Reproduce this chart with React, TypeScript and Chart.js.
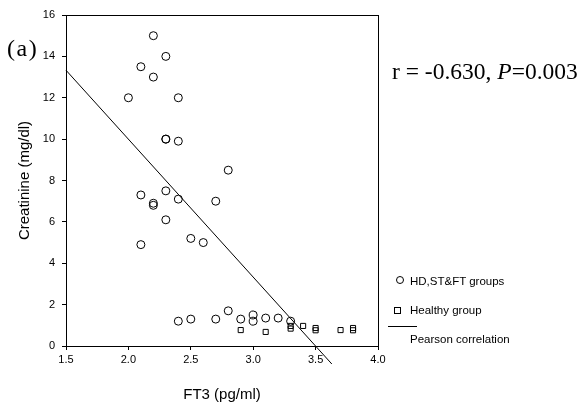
import React, { useEffect, useRef } from "react";
import { Chart, registerables } from "chart.js";

Chart.register(...registerables);

// HD, ST & FT groups (circles)
const groupFT3 = [2.2, 2.3, 2.1, 2.2, 2.0, 2.4, 2.3, 2.3, 2.4, 2.8, 2.1, 2.3, 2.4, 2.2, 2.2, 2.3, 2.1, 2.5, 2.6, 2.7, 2.4, 2.5, 2.7, 2.8, 2.9, 3.0, 3.0, 3.1, 3.2, 3.3];
const groupCreat = [15, 14, 13.5, 13, 12, 12, 10, 10, 9.9, 8.5, 7.3, 7.5, 7.1, 6.9, 6.8, 6.1, 4.9, 5.2, 5.0, 7.0, 1.2, 1.3, 1.3, 1.7, 1.3, 1.5, 1.2, 1.35, 1.35, 1.2];

// Healthy group (squares)
const healthyFT3 = [2.9, 3.1, 3.3, 3.3, 3.4, 3.5, 3.5, 3.7, 3.8, 3.8];
const healthyCreat = [0.77, 0.68, 0.97, 0.84, 0.97, 0.87, 0.76, 0.77, 0.87, 0.76];

// Pearson correlation line end points
const lineFT3 = [1.5, 3.63];
const lineCreat = [13.33, -0.87];

const xTicks = [1.5, 2.0, 2.5, 3.0, 3.5, 4.0];
const yTicks = [0, 2, 4, 6, 8, 10, 12, 14, 16];

const xTitle = "FT3 (pg/ml)";
const yTitle = "Creatinine (mg/dl)";
const legendLabels = ["HD,ST&FT groups", "Healthy group", "Pearson correlation"];

const SANS = "'Liberation Sans', Arial, sans-serif";
const SERIF = "'Liberation Serif', 'Times New Roman', serif";

const boxPlugin = {
  id: "boxPlugin",
  afterDatasetsDraw(chart: any) {
    const { ctx, chartArea } = chart;
    ctx.save();
    ctx.strokeStyle = "#000";
    ctx.lineWidth = 1;
    ctx.strokeRect(
      Math.round(chartArea.left) + 0.5,
      Math.round(chartArea.top) + 0.5,
      Math.round(chartArea.right - chartArea.left),
      Math.round(chartArea.bottom - chartArea.top)
    );
    ctx.restore();
  },
};

export default function App() {
  const ref = useRef<HTMLCanvasElement | null>(null);

  useEffect(() => {
    if (!ref.current) return;
    const chart = new Chart(ref.current, {
      type: "scatter",
      data: {
        datasets: [
          {
            label: legendLabels[0],
            data: groupFT3.map((x, i) => ({ x, y: groupCreat[i] })),
            pointStyle: "circle",
            pointRadius: 4,
            pointBorderWidth: 1,
            borderColor: "#000",
            backgroundColor: "rgba(255,255,255,0)",
          },
          {
            label: legendLabels[1],
            data: healthyFT3.map((x, i) => ({ x, y: healthyCreat[i] })),
            pointStyle: "rect",
            pointRadius: 3.6,
            pointBorderWidth: 1,
            borderColor: "#000",
            backgroundColor: "rgba(255,255,255,0)",
          },
          {
            label: legendLabels[2],
            data: lineFT3.map((x, i) => ({ x, y: lineCreat[i] })),
            showLine: true,
            pointRadius: 0,
            borderWidth: 1,
            borderColor: "#000",
            clip: false as any,
          } as any,
        ],
      },
      options: {
        animation: false,
        responsive: false,
        layout: { padding: { top: 15, right: 208, left: 0, bottom: 0 } },
        plugins: {
          legend: { display: false },
          tooltip: { enabled: false },
        },
        scales: {
          x: {
            type: "linear",
            min: 1.5,
            max: 4.0,
            afterBuildTicks: (s: any) => {
              s.ticks = xTicks.map((v) => ({ value: v }));
            },
            afterFit: (s: any) => {
              s.height = 59;
            },
            ticks: {
              color: "#000",
              font: { family: SANS, size: 11 },
              padding: 3,
              maxRotation: 0,
              callback: (v: any) => Number(v).toFixed(1),
            },
            grid: { drawOnChartArea: false, drawTicks: true, tickLength: 4, color: "#000" },
            border: { display: true, color: "#000", width: 1 },
            title: {
              display: true,
              text: xTitle,
              color: "#000",
              font: { family: SANS, size: 15 },
              padding: { top: 0, bottom: 1 },
            },
          },
          y: {
            type: "linear",
            min: 0,
            max: 16,
            afterBuildTicks: (s: any) => {
              s.ticks = yTicks.map((v) => ({ value: v }));
            },
            afterFit: (s: any) => {
              s.width = 66;
            },
            ticks: {
              color: "#000",
              font: { family: SANS, size: 11 },
              padding: 7,
            },
            grid: { drawOnChartArea: false, drawTicks: true, tickLength: 4, color: "#000" },
            border: { display: true, color: "#000", width: 1 },
            title: {
              display: true,
              text: yTitle,
              color: "#000",
              font: { family: SANS, size: 15 },
              padding: { top: 16, bottom: 0 },
            },
          },
        },
      },
      plugins: [boxPlugin],
    });
    return () => chart.destroy();
  }, []);

  return (
    <div style={{ position: "absolute", left: 0, top: 0, width: 586, height: 405, background: "#fff" }}>
      <canvas ref={ref} width={586} height={405} style={{ position: "absolute", left: 0, top: 0 }} />
      <div style={{ position: "absolute", left: 7, top: 36, fontFamily: SERIF, fontSize: 24, lineHeight: 1, letterSpacing: 1.5, color: "#000", whiteSpace: "pre" }}>
        (a)
      </div>
      <div style={{ position: "absolute", left: 392, top: 60, fontFamily: SERIF, fontSize: 23.5, lineHeight: 1, color: "#000", whiteSpace: "pre" }}>
        r = -0.630, <i>P</i>=0.003
      </div>
      <div style={{ position: "absolute", left: 396, top: 276, width: 6, height: 6, border: "1px solid #000", borderRadius: "50%" }} />
      <div style={{ position: "absolute", left: 410, top: 273, fontFamily: SANS, fontSize: 11.5, lineHeight: "16px", color: "#000", whiteSpace: "pre" }}>
        {legendLabels[0]}
      </div>
      <div style={{ position: "absolute", left: 394, top: 307, width: 5, height: 5, border: "1px solid #000" }} />
      <div style={{ position: "absolute", left: 410, top: 302, fontFamily: SANS, fontSize: 11.5, lineHeight: "16px", color: "#000", whiteSpace: "pre" }}>
        {legendLabels[1]}
      </div>
      <div style={{ position: "absolute", left: 388, top: 326, width: 29, height: 1, background: "#000" }} />
      <div style={{ position: "absolute", left: 410, top: 331, fontFamily: SANS, fontSize: 11.5, lineHeight: "16px", color: "#000", whiteSpace: "pre" }}>
        {legendLabels[2]}
      </div>
    </div>
  );
}
